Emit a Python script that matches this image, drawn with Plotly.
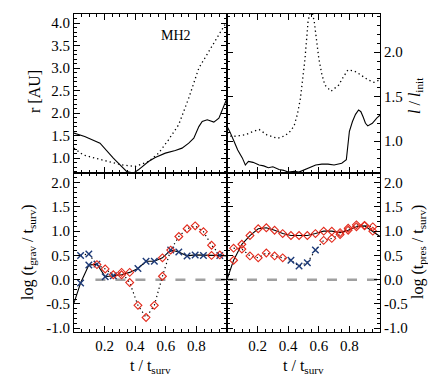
import plotly.graph_objects as go
from plotly.subplots import make_subplots

# --- 上段左: r [AU] ---
r_solid_t = [0, 0.07, 0.17, 0.257, 0.344, 0.388, 0.421, 0.487, 0.531, 0.597, 0.662, 0.706,
             0.75, 0.783, 0.816, 0.838, 0.871, 0.914, 0.947, 0.976, 1.0]
r_solid = [1.556, 1.48, 1.333, 1.0, 0.704, 0.667, 0.741, 0.926, 1.015, 1.111, 1.17, 1.222,
           1.333, 1.444, 1.70, 1.815, 1.852, 1.80, 1.889, 2.11, 2.33]
r_dot_t = [0, 0.059, 0.114, 0.224, 0.311, 0.399, 0.487, 0.553, 0.618, 0.684, 0.75, 0.816,
           0.882, 0.947, 1.0]
r_dot = [1.222, 1.074, 1.02, 0.926, 0.852, 0.815, 0.926, 1.111, 1.407, 1.741, 2.333, 3.0,
         3.37, 3.74, 4.04]

# --- 上段右: l / l_init ---
l_solid_t = [0, 0.02, 0.045, 0.07, 0.1, 0.12, 0.14, 0.17, 0.21, 0.24, 0.27, 0.30, 0.34, 0.37,
             0.40, 0.44, 0.47, 0.51, 0.55, 0.58, 0.62, 0.66, 0.70, 0.75, 0.78, 0.80, 0.82,
             0.84, 0.86, 0.875, 0.89, 0.905, 0.92, 0.95, 0.98, 1.0]
l_solid = [1.165, 1.10, 1.0, 0.90, 0.81, 0.73, 0.77, 0.76, 0.73, 0.72, 0.70, 0.71, 0.68, 0.67,
           0.65, 0.66, 0.65, 0.68, 0.71, 0.73, 0.74, 0.74, 0.73, 0.75, 0.79, 1.11, 1.22,
           1.30, 1.35, 1.33, 1.27, 1.20, 1.17, 1.20, 1.26, 1.29]
l_dot_t = [0, 0.03, 0.08, 0.12, 0.16, 0.21, 0.26, 0.33, 0.38, 0.42, 0.44, 0.46, 0.48, 0.50,
           0.51, 0.53, 0.55, 0.57, 0.585, 0.60, 0.62, 0.64, 0.68, 0.73, 0.76, 0.79, 0.83,
           0.86, 0.92, 0.96, 1.0]
l_dot = [1.09, 1.05, 1.06, 1.07, 1.10, 1.13, 1.07, 1.03, 1.06, 1.12, 1.18, 1.30, 1.48, 1.75,
         1.93, 2.35, 2.50, 2.35, 2.10, 1.93, 1.75, 1.63, 1.56, 1.63, 1.72, 1.80, 1.79,
         1.76, 1.69, 1.66, 1.69]

# --- 下段: 時間グリッド ---
t_grid = [0.043, 0.097, 0.150, 0.204, 0.257, 0.311, 0.364, 0.418, 0.471, 0.525, 0.578,
          0.632, 0.685, 0.739, 0.792, 0.846, 0.899, 0.953]

# 下段左: log(t_grav / t_surv)
grav_solid_ends = [(0, -0.48), (1.0, 0.49)]
grav_solid = [-0.07, 0.30, 0.32, 0.06, 0.08, 0.10, 0.15, 0.23, 0.38, 0.38, 0.45,
              0.61, 0.57, 0.49, 0.51, 0.50, 0.50, 0.50]
grav_solid_sym = ["x", "x", "x", "x", "x", "d", "d", "x", "x", "x", "d",
                  "x", "x", "x", "x", "x", "d", "x"]
grav_dot = [0.50, 0.53, 0.31, 0.22, 0.10, 0.15, -0.06, -0.53, -0.78, -0.53, 0.07,
            0.61, 0.89, 1.05, 1.11, 0.99, 0.71, 0.51]
grav_dot_sym = ["x", "x", "d", "d", "d", "d", "d", "d", "d", "d", "d",
                "d", "d", "d", "d", "d", "d", "d"]

# 下段右: log(t_pres / t_surv)
pres_solid_ends = [(0, 0.0), (1.0, 0.89)]
pres_solid = [0.40, 0.73, 0.91, 1.05, 1.07, 1.02, 0.95, 0.91, 0.91, 0.91, 0.95,
              1.00, 1.00, 0.97, 1.02, 1.09, 1.11, 1.00]
pres_solid_sym = ["d"] * 18
pres_dot = [0.65, 0.63, 0.49, 0.45, 0.55, 0.49, 0.45, 0.40, 0.28, 0.35, 0.61,
            0.81, 0.85, 0.93, 1.06, 1.13, 1.12, 1.09]
pres_dot_sym = ["d", "d", "d", "d", "d", "d", "d", "x", "x", "x", "x",
                "d", "d", "d", "d", "d", "d", "d"]

FONT = "Liberation Serif"
RED = "#e32a1c"
BLUE = "#1d3a78"
DOT = "1.3px,3px"

fig = make_subplots(rows=2, cols=2, horizontal_spacing=0, vertical_spacing=0)


def add_markers(t, v, sym, row, col):
    """記号ごとにマーカーを描画"""
    xs = [a for a, s in zip(t, sym) if s == "x"]
    ys = [b for b, s in zip(v, sym) if s == "x"]
    xd = [a for a, s in zip(t, sym) if s == "d"]
    yd = [b for b, s in zip(v, sym) if s == "d"]
    fig.add_trace(go.Scatter(x=xd, y=yd, mode="markers",
                             marker=dict(symbol="diamond-open", size=6, color=RED,
                                         line=dict(color=RED, width=1.1))),
                  row=row, col=col)
    fig.add_trace(go.Scatter(x=xs, y=ys, mode="markers",
                             marker=dict(symbol="x-thin-open", size=6.5, color=BLUE,
                                         line=dict(color=BLUE, width=1.4))),
                  row=row, col=col)


# 上段
fig.add_trace(go.Scatter(x=r_solid_t, y=r_solid, mode="lines",
                         line=dict(color="black", width=1.1)), row=1, col=1)
fig.add_trace(go.Scatter(x=r_dot_t, y=r_dot, mode="lines",
                         line=dict(color="black", width=1.3, dash=DOT)), row=1, col=1)
fig.add_trace(go.Scatter(x=l_solid_t, y=l_solid, mode="lines",
                         line=dict(color="black", width=1.1)), row=1, col=2)
fig.add_trace(go.Scatter(x=l_dot_t, y=l_dot, mode="lines",
                         line=dict(color="black", width=1.3, dash=DOT)), row=1, col=2)

# 下段：ゼロ線
fig.add_trace(go.Scatter(x=[0.14, 1.0], y=[0, 0], mode="lines",
                         line=dict(color="#a0a0a0", width=2.5, dash="10px,10px")), row=2, col=1)
fig.add_trace(go.Scatter(x=[0.0, 1.0], y=[0, 0], mode="lines",
                         line=dict(color="#a0a0a0", width=2.5, dash="10px,10px")), row=2, col=2)

for col, ends, solid, ssym, dot, dsym in [
    (1, grav_solid_ends, grav_solid, grav_solid_sym, grav_dot, grav_dot_sym),
    (2, pres_solid_ends, pres_solid, pres_solid_sym, pres_dot, pres_dot_sym),
]:
    lx = [ends[0][0]] + t_grid + [ends[1][0]]
    ly = [ends[0][1]] + solid + [ends[1][1]]
    fig.add_trace(go.Scatter(x=lx, y=ly, mode="lines",
                             line=dict(color="black", width=1.1)), row=2, col=col)
    fig.add_trace(go.Scatter(x=t_grid, y=dot, mode="lines",
                             line=dict(color="black", width=1.2, dash=DOT)), row=2, col=col)
    add_markers(t_grid, solid, ssym, 2, col)
    add_markers(t_grid, dot, dsym, 2, col)

axis_style = dict(
    showline=True, linecolor="black", linewidth=1, mirror="allticks",
    ticks="inside", ticklen=6, tickcolor="black", tickwidth=1,
    showgrid=False, zeroline=False,
    tickfont=dict(family=FONT, size=15, color="black"),
)

tick_x = [0.2, 0.4, 0.6, 0.8]
for row in (1, 2):
    for col in (1, 2):
        fig.update_xaxes(range=[0, 1.0], tickvals=tick_x,
                         ticktext=[f"{v:.1f}" for v in tick_x],
                         showticklabels=(row == 2),
                         minor=dict(ticks="inside", ticklen=3, dtick=0.05, tickcolor="black"),
                         row=row, col=col, **axis_style)

fig.update_yaxes(range=[0.67, 4.2], tickvals=[1.0, 1.5, 2.0, 2.5, 3.0, 3.5, 4.0],
                 ticktext=["1.0", "1.5", "2.0", "2.5", "3.0", "3.5", "4.0"],
                 minor=dict(ticks="inside", ticklen=3, dtick=0.1, tickcolor="black"),
                 row=1, col=1, **axis_style)
fig.update_yaxes(range=[0.64, 2.43], tickvals=[1.0, 1.5, 2.0], ticktext=["1.0", "1.5", "2.0"],
                 side="right",
                 minor=dict(ticks="inside", ticklen=3, dtick=0.1, tickcolor="black"),
                 row=1, col=2, **axis_style)
log_ticks = [-1.0, -0.5, 0.0, 0.5, 1.0, 1.5, 2.0]
for col in (1, 2):
    fig.update_yaxes(range=[-1.08, 2.2], tickvals=log_ticks,
                     ticktext=[f"{v:.1f}" for v in log_ticks],
                     side="left" if col == 1 else "right",
                     minor=dict(ticks="inside", ticklen=3, dtick=0.1, tickcolor="black"),
                     row=2, col=col, **axis_style)

title_font = dict(family=FONT, size=16, color="black")
annotations = [
    dict(text="MH2", x=0.665, y=3.73, xref="x", yref="y", showarrow=False,
         font=dict(family=FONT, size=14, color="black")),
    dict(text="r [AU]", x=27, y=84, textangle=-90),
    dict(text="log (t<sub>grav</sub> / t<sub>surv</sub>)", x=21, y=244, textangle=-90),
    dict(text="<i>l</i> / <i>l</i><sub>init</sub>", x=408, y=88, textangle=-90),
    dict(text="log (t<sub>pres</sub> / t<sub>surv</sub>)", x=411, y=244, textangle=-90),
    dict(text="t / t<sub>surv</sub>", x=142, y=358),
    dict(text="t / t<sub>surv</sub>", x=295, y=358),
]
W, H = 436, 382
for a in annotations:
    if "xref" not in a:
        a.update(xref="paper", yref="paper", showarrow=False, font=title_font,
                 xanchor="center", yanchor="middle")
        a["x"] = (a["x"] - 66) / (W - 66 - 64)
        a["y"] = 1 - (a["y"] - 6) / (H - 6 - 58)
    fig.add_annotation(**a)

fig.update_layout(
    width=W, height=H,
    margin=dict(l=66, r=64, t=6, b=58),
    showlegend=False,
    plot_bgcolor="white", paper_bgcolor="white",
    font=dict(family=FONT, size=15, color="black"),
)

fig.write_html("out.html")
